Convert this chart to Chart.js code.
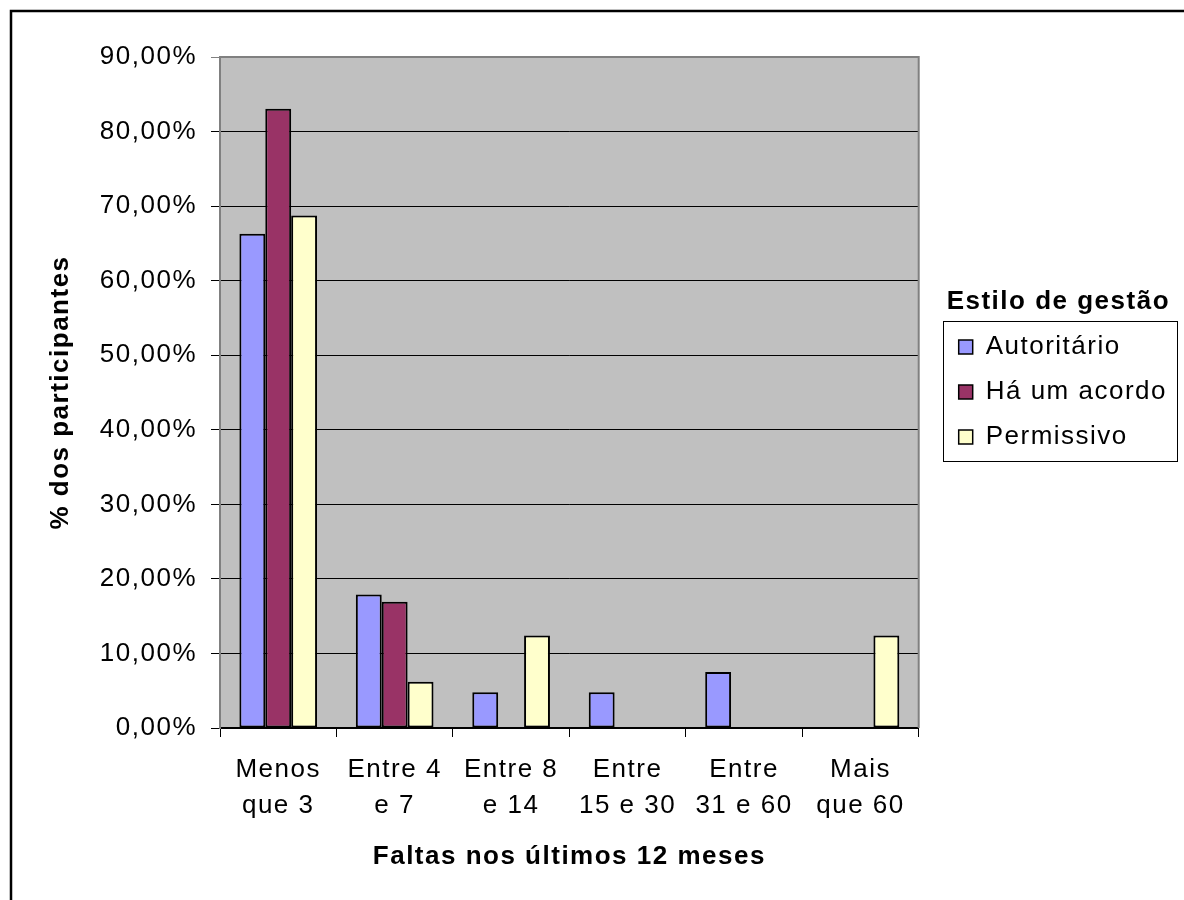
<!DOCTYPE html>
<html><head><meta charset="utf-8">
<script src="https://cdn.jsdelivr.net/npm/chart.js@4.4.0/dist/chart.umd.min.js"></script>
<style>html,body{margin:0;padding:0;background:#fff}</style>
</head><body>
<canvas id="c" width="1184" height="900"></canvas>
<script>
// Absences in the last 12 months, share of participants per management style
const categories = [['Menos', 'que 3'], ['Entre 4', 'e 7'], ['Entre 8', 'e 14'], ['Entre', '15 e 30'], ['Entre', '31 e 60'], ['Mais', 'que 60']];
const seriesNames = ['Autoritário', 'Há um acordo', 'Permissivo'];
const autoritario = [66.3, 17.9, 4.8, 4.8, 7.5, 0];
const haUmAcordo = [83.05, 16.95, 0, 0, 0, 0];
const permissivo = [68.75, 6.2, 12.4, 0, 0, 12.4];
const yMax = 90;
const yStep = 10;

const FONT = '"Liberation Sans", Arial, sans-serif';
const SIZE = 26;
const SPACING = '1.5px';
const LEGEND_SHIFT = 21;

const spacingPlugin = {
  id: 'spacing',
  beforeLayout(chart) { chart.ctx.letterSpacing = SPACING; },
  beforeDraw(chart) { chart.ctx.letterSpacing = SPACING; }
};

// move the legend block a little to the right of the plot edge
const legendShift = {
  id: 'legendShift',
  afterLayout(chart) {
    chart.legend.left += LEGEND_SHIFT;
    chart.legend.right += LEGEND_SHIFT;
  }
};

const plotBackground = {
  id: 'plotBackground',
  beforeDraw(chart) {
    const { ctx, chartArea: a } = chart;
    ctx.save();
    ctx.fillStyle = '#C0C0C0';
    ctx.fillRect(a.left, a.top, a.right - a.left, a.bottom - a.top);
    ctx.restore();
  },
  beforeDatasetsDraw(chart) {
    const { ctx, chartArea: a } = chart;
    ctx.save();
    ctx.strokeStyle = '#808080';
    ctx.lineWidth = 2;
    ctx.beginPath();
    ctx.moveTo(a.left, a.top);
    ctx.lineTo(a.right, a.top);
    ctx.lineTo(a.right, a.bottom);
    ctx.stroke();
    ctx.restore();
  }
};

const frameAndLegendBox = {
  id: 'frameAndLegendBox',
  afterDraw(chart) {
    const ctx = chart.ctx;
    ctx.save();
    ctx.strokeStyle = '#000';
    ctx.lineWidth = 2.5;
    ctx.strokeRect(11, 11, 1300, 1000);
    const hb = chart.legend.legendHitBoxes;
    if (hb && hb.length) {
      const left = Math.min(...hb.map(h => h.left)) - 16;
      const top = Math.min(...hb.map(h => h.top)) - 13;
      const bottom = Math.max(...hb.map(h => h.top + h.height)) + 11;
      const right = Math.max(...hb.map(h => h.left + h.width)) + 10;
      ctx.strokeStyle = '#000';
      ctx.lineWidth = 1;
      ctx.strokeRect(Math.round(left) + 0.5, Math.round(top) + 0.5, Math.round(right - left), Math.round(bottom - top));
    }
    ctx.restore();
  }
};

const barStyle = { borderColor: '#000', borderWidth: 2, borderSkipped: false, barPercentage: 1, categoryPercentage: 0.667 };

new Chart(document.getElementById('c'), {
  type: 'bar',
  data: {
    labels: categories,
    datasets: [
      { label: seriesNames[0], data: autoritario, backgroundColor: '#9999FF', ...barStyle },
      { label: seriesNames[1], data: haUmAcordo, backgroundColor: '#993366', ...barStyle },
      { label: seriesNames[2], data: permissivo, backgroundColor: '#FFFFCC', ...barStyle }
    ]
  },
  options: {
    responsive: false,
    animation: false,
    devicePixelRatio: 1,
    layout: { padding: { left: 12, top: 57, right: 28, bottom: 0 } },
    plugins: {
      tooltip: { enabled: false },
      legend: {
        position: 'right',
        align: 'start',
        title: { display: true, text: 'Estilo de gestão', color: '#000', font: { family: FONT, size: SIZE, weight: 'bold', lineHeight: 1.0 }, padding: { top: 232, bottom: 0 } },
        labels: {
          color: '#000',
          boxWidth: 14,
          boxHeight: 14,
          padding: 19,
          font: { family: FONT, size: SIZE },
          generateLabels(chart) {
            return chart.data.datasets.map((d, i) => ({
              text: d.label, fillStyle: d.backgroundColor, strokeStyle: '#000', lineWidth: 1.5, datasetIndex: i, hidden: false
            }));
          }
        }
      }
    },
    scales: {
      x: {
        afterFit(scale) { scale.height = 172; },
        grid: { offset: true, drawOnChartArea: false, drawTicks: true, tickLength: 9, color: '#000', lineWidth: 1 },
        border: { display: true, color: '#000', width: 2 },
        ticks: { color: '#000', font: { family: FONT, size: SIZE, lineHeight: 1.38 }, maxRotation: 0, autoSkip: false, padding: 15 },
        title: { display: true, text: 'Faltas nos últimos 12 meses', color: '#000', font: { family: FONT, size: SIZE, weight: 'bold' }, padding: { top: 0, bottom: 28 } }
      },
      y: {
        min: 0,
        max: yMax,
        afterFit(scale) { scale.width = 208; },
        grid: {
          color: (c) => c.tick && c.tick.value === yMax ? '#808080' : '#000',
          lineWidth: 1,
          tickLength: 9,
          drawTicks: true
        },
        border: { display: true, color: '#808080', width: 2 },
        ticks: {
          stepSize: yStep,
          color: '#000',
          padding: 14,
          font: { family: FONT, size: SIZE },
          callback: (v) => v.toFixed(2).replace('.', ',') + '%'
        },
        title: { display: true, text: '% dos participantes', color: '#000', font: { family: FONT, size: SIZE, weight: 'bold' }, padding: { top: 33, bottom: 0 } }
      }
    }
  },
  plugins: [spacingPlugin, legendShift, plotBackground, frameAndLegendBox]
});
</script>
</body></html>
